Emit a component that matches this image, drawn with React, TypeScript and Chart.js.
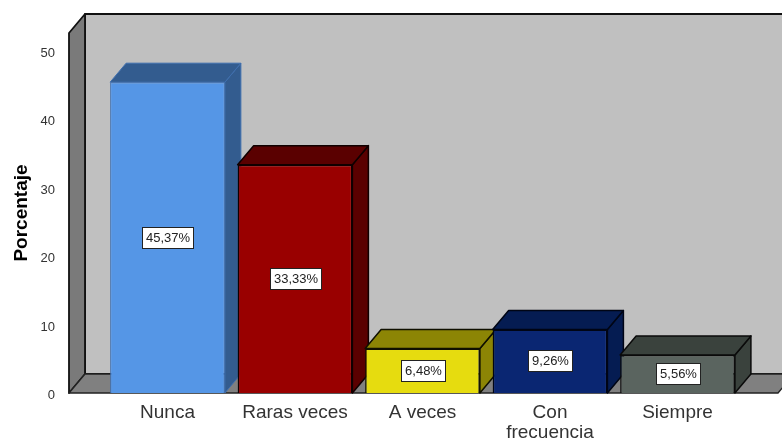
import React, { useEffect, useRef } from "react";
import { Chart, registerables } from "chart.js";

Chart.register(...registerables);

const categories: (string | string[])[] = ["Nunca", "Raras veces", "A veces", ["Con", "frecuencia"], "Siempre"];
const percentages = [45.37, 33.33, 6.48, 9.26, 5.56];
const yTicks = [0, 10, 20, 30, 40, 50];
const yMax = 52.55;
const xMin = -0.7725;
const xMax = 4.788;

const frontColors = ["#5596E6", "#990000", "#E6DC0F", "#0A2672", "#5A645F"];
const sideColors = ["#335C8F", "#5A0000", "#8C8505", "#051C52", "#3A423D"];
const edgeColors = ["#3F6FAF", "#100000", "#101000", "#000515", "#0A0A0A"];
const edgeWidths = [1, 1.5, 1.5, 1.5, 1.5];

const DX = 16;
const DY = 19;
const FONT = "'Liberation Sans', Arial, sans-serif";

function poly(ctx: CanvasRenderingContext2D, pts: number[][], fill: string, stroke?: string, lw = 1) {
  ctx.beginPath();
  pts.forEach((p, i) => (i ? ctx.lineTo(p[0], p[1]) : ctx.moveTo(p[0], p[1])));
  ctx.closePath();
  ctx.fillStyle = fill;
  ctx.fill();
  if (stroke) {
    ctx.strokeStyle = stroke;
    ctx.lineWidth = lw;
    ctx.lineJoin = "round";
    ctx.stroke();
  }
}

const box3d = {
  id: "box3d",
  beforeDraw(chart: any) {
    const s = chart.scales.y;
    const orig = s.drawLabels;
    s.drawLabels = function (area: any) {
      const c = this.ctx;
      c.save();
      c.translate(0, 2.5);
      orig.call(this, area);
      c.restore();
    };
  },
  beforeDatasetsDraw(chart: any) {
    const { ctx, chartArea: a } = chart;
    const L = a.left, R = a.right, T = a.top, B = a.bottom;
    ctx.save();
    poly(ctx, [[L + DX, T - DY], [R + DX, T - DY], [R + DX, B - DY], [L + DX, B - DY]], "#C0C0C0", "#111111", 1.8);
    poly(ctx, [[L, T], [L + DX, T - DY], [L + DX, B - DY], [L, B]], "#7A7A7A", "#111111", 1.8);
    poly(ctx, [[L, B], [L + DX, B - DY], [R + DX, B - DY], [R, B]], "#808080", "#222222", 1.4);
    const meta = chart.getDatasetMeta(0);
    meta.data.forEach((bar: any, i: number) => {
      const hw = bar.width / 2;
      const x0 = bar.x - hw, x1 = bar.x + hw, y = bar.y, b = bar.base;
      poly(ctx, [[x1, y], [x1 + DX, y - DY], [x1 + DX, b - DY], [x1, b]], sideColors[i], edgeColors[i], edgeWidths[i]);
      poly(ctx, [[x0, y], [x0 + DX, y - DY], [x1 + DX, y - DY], [x1, y]], sideColors[i], edgeColors[i], edgeWidths[i]);
    });
    ctx.restore();
  },
  afterDatasetsDraw(chart: any) {
    const { ctx } = chart;
    const meta = chart.getDatasetMeta(0);
    ctx.save();
    ctx.font = `13px ${FONT}`;
    ctx.textAlign = "center";
    ctx.textBaseline = "middle";
    meta.data.forEach((bar: any, i: number) => {
      const text = percentages[i].toFixed(2).replace(".", ",") + "%";
      const w = Math.round(ctx.measureText(text).width) + 6;
      const h = 20;
      const cx = bar.x + 0.5;
      const cy = (bar.y + bar.base) / 2;
      const x = Math.round(cx - w / 2), yy = Math.round(cy - h / 2);
      ctx.fillStyle = "#FFFFFF";
      ctx.fillRect(x, yy, w, h);
      ctx.strokeStyle = "#222222";
      ctx.lineWidth = 1;
      ctx.strokeRect(x - 0.5, yy - 0.5, w + 1, h + 1);
      ctx.fillStyle = "#222222";
      ctx.fillText(text, x + w / 2, yy + h / 2 + 0.5);
    });
    ctx.restore();
  },
};

export default function App() {
  const ref = useRef<HTMLCanvasElement>(null);
  useEffect(() => {
    document.body.style.margin = "0";
    const chart = new Chart(ref.current as HTMLCanvasElement, {
      type: "bar",
      data: {
        datasets: [
          {
            data: percentages.map((v, i) => ({ x: i, y: v })),
            backgroundColor: frontColors,
            borderColor: edgeColors,
            borderWidth: edgeWidths,
            barPercentage: 0.9,
            categoryPercentage: 1,
          },
        ],
      },
      options: {
        responsive: false,
        animation: false,
        layout: { padding: { top: 33, right: 4, left: 0, bottom: 0 } },
        plugins: { legend: { display: false }, tooltip: { enabled: false } },
        scales: {
          x: {
            type: "linear",
            offset: false,
            min: xMin,
            max: xMax,
            grid: { display: false },
            border: { display: false },
            afterBuildTicks: (s: any) => {
              s.ticks = categories.map((_, i) => ({ value: i }));
            },
            afterFit: (s: any) => {
              s.height = 46;
            },
            ticks: {
              autoSkip: false,
              maxRotation: 0,
              padding: 2,
              color: "#333333",
              font: { family: FONT, size: 19, lineHeight: 1.05 },
              callback: (v: any) => categories[v as number] as any,
            },
          },
          y: {
            min: 0,
            max: yMax,
            grid: { display: false },
            border: { display: false },
            afterBuildTicks: (s: any) => {
              s.ticks = yTicks.map((value) => ({ value }));
            },
            afterFit: (s: any) => {
              s.width = 69;
            },
            title: {
              display: true,
              text: "Porcentaje",
              color: "#000000",
              padding: { top: 10, bottom: 0 },
              font: { family: FONT, size: 19, weight: "bold" },
            },
            ticks: {
              padding: 6,
              color: "#333333",
              font: { family: FONT, size: 13 },
            },
          },
        },
      },
      plugins: [box3d],
    } as any);
    return () => chart.destroy();
  }, []);
  return <canvas ref={ref} width={782} height={439} style={{ display: "block" }} />;
}
